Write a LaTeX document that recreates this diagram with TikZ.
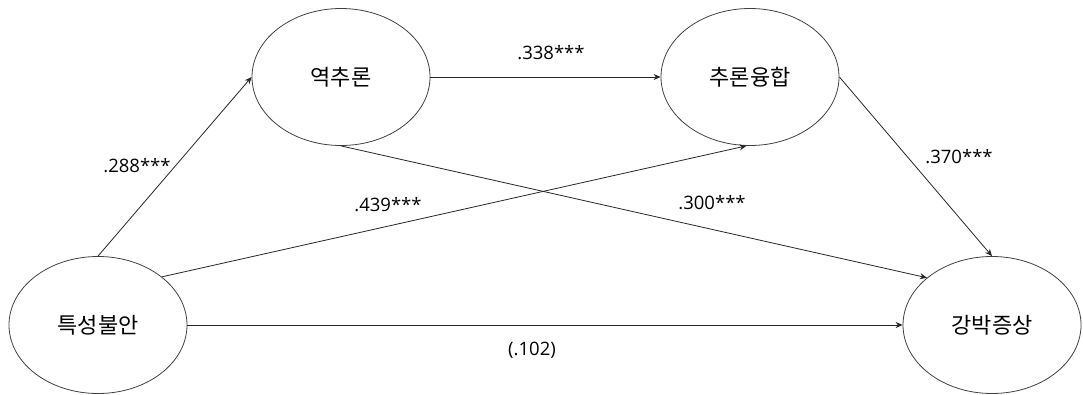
\documentclass[tikz,border=0pt]{standalone}
\usepackage{fontspec}
\setmainfont{Noto Sans CJK KR}
\newfontfamily\numfont{Open Sans}
\usetikzlibrary{shapes.geometric,arrows.meta}
\begin{document}
\begin{tikzpicture}[x=1pt,y=-1pt,
  latent/.style={draw=black!75,line width=0.8pt,ellipse,minimum width=178pt,minimum height=137pt,inner sep=0pt,font=\fontsize{22}{26}\selectfont},
  path/.style={draw=black!85,line width=0.8pt,-{Stealth[length=7pt,width=6pt]}},
  coef/.style={font=\numfont\fontsize{18.5}{22}\selectfont,inner sep=0pt}]
\useasboundingbox (0,0) rectangle (1083,394);
\node[latent] (A) at (98,325) {특성불안};
\node[latent] (B) at (341,77) {역추론};
\node[latent] (C) at (750,77) {추론융합};
\node[latent] (D) at (992,325) {강박증상};
\draw[path] (A.north) -- (B.west);
\draw[path] (B.east) -- (C.west);
\draw[path] (A.37) -- (C.-93);
\draw[path] (B.south) -- (D.144);
\draw[path] (C.east) -- (D.north);
\draw[path] (A.east) -- (D.west);
\node[coef] (l1) at (551,53) {.338***};
\node[coef] (l2) at (137,166) {.288***};
\node[coef] (l3) at (388,205) {.439***};
\node[coef] (l4) at (712,203) {.300***};
\node[coef] (l5) at (959,157) {.370***};
\node[coef] (l6) at (532,350) {(.102)};
\end{tikzpicture}
\end{document}
